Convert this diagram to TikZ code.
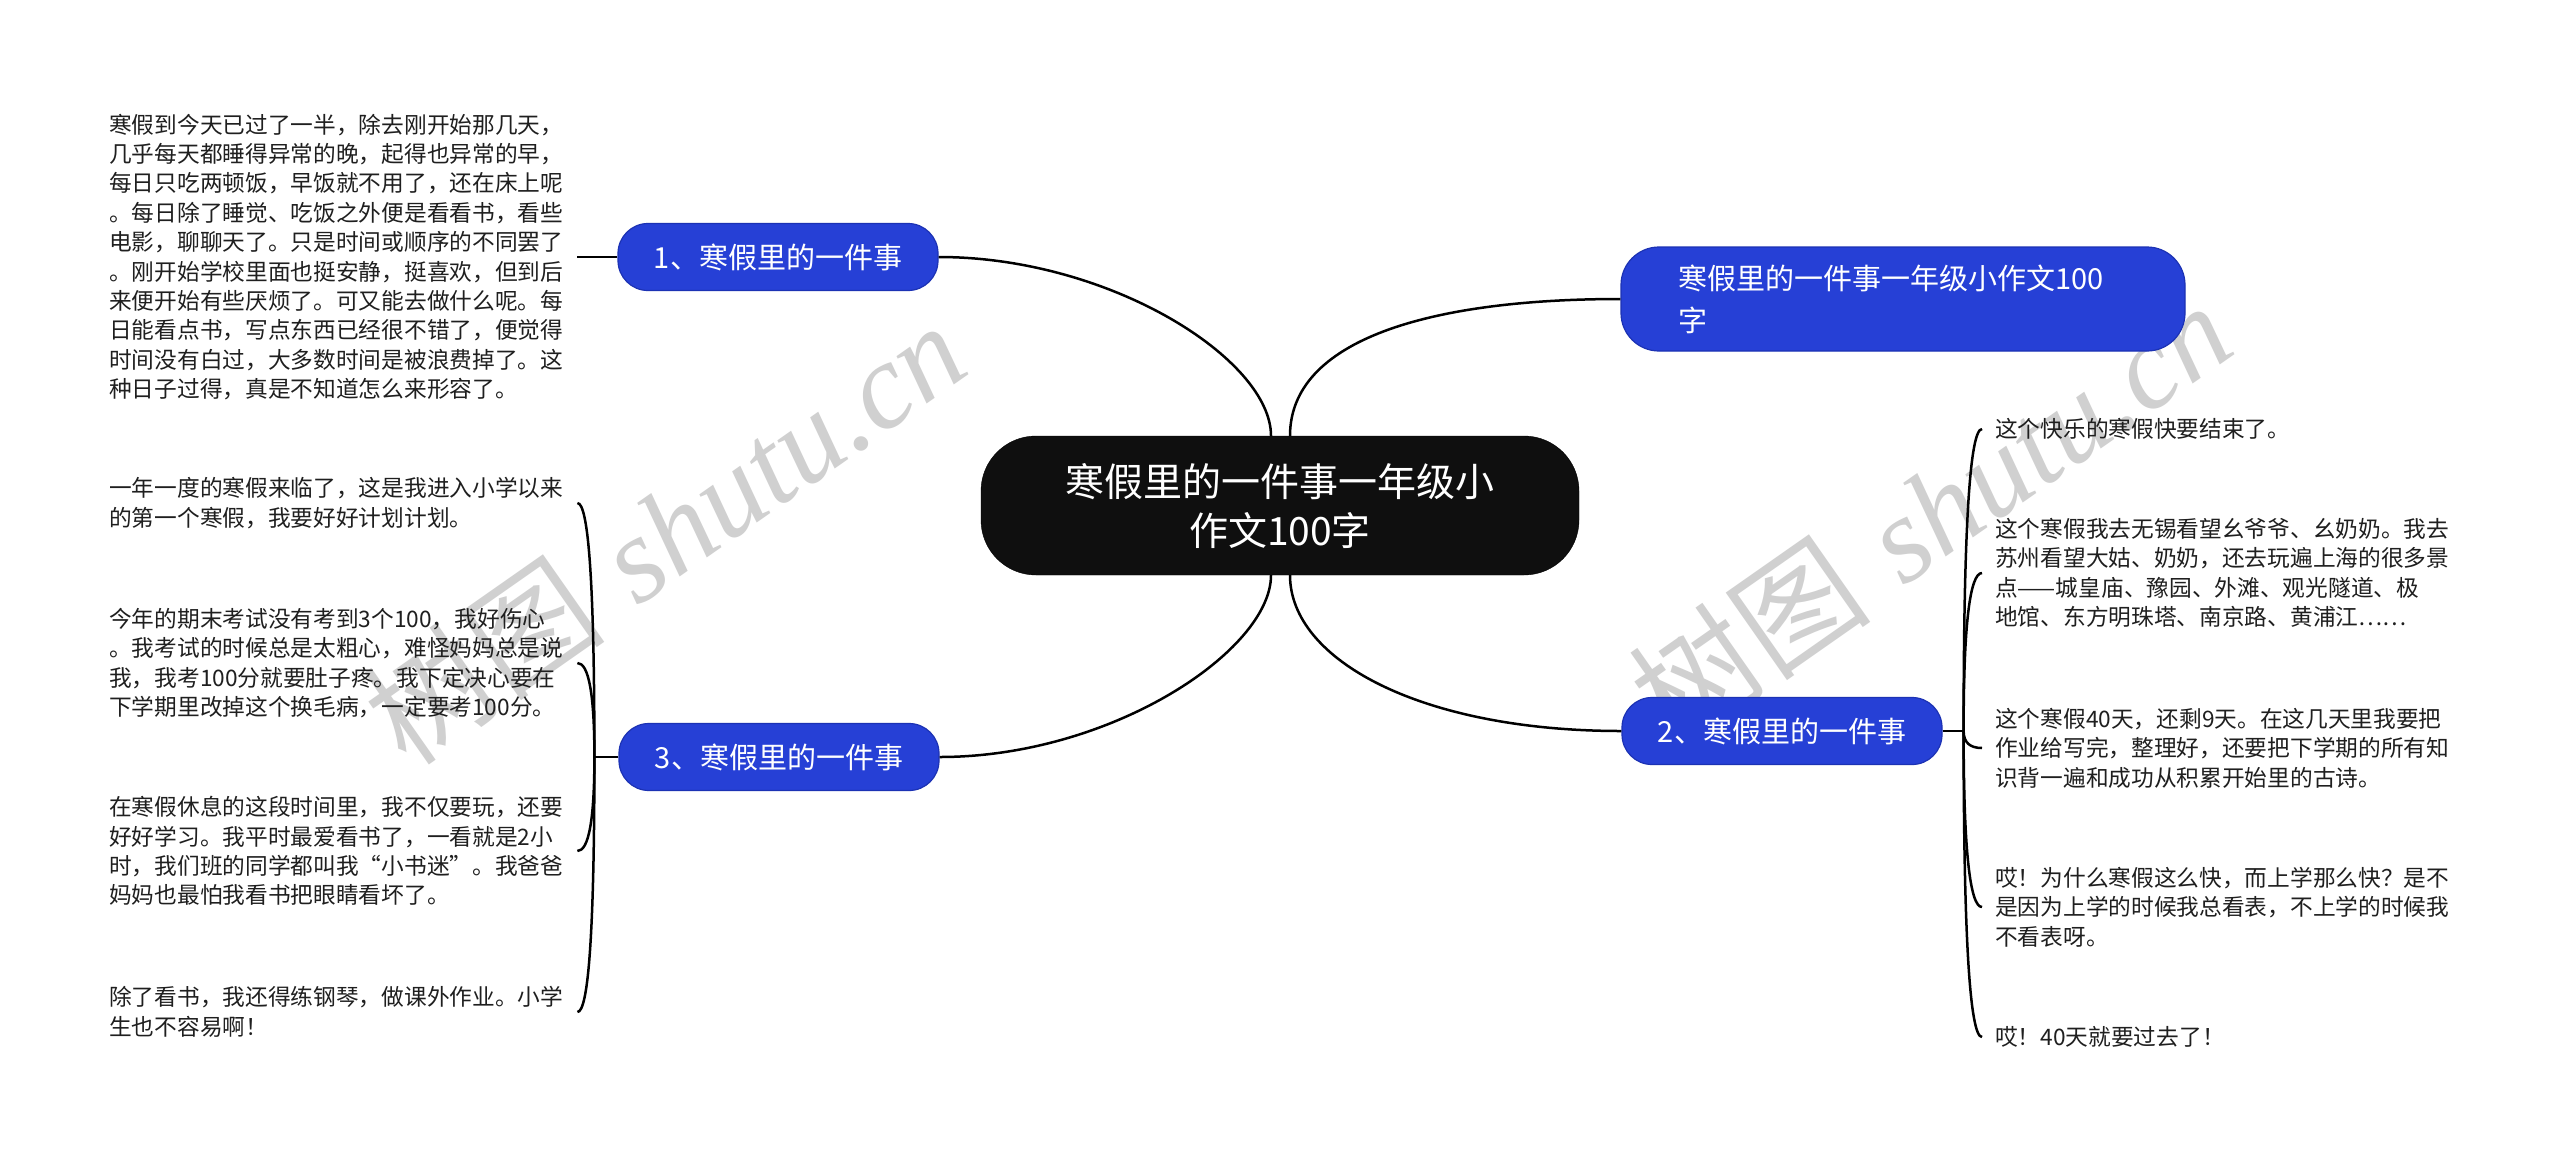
\documentclass[tikz,border=0pt]{standalone}
\usepackage{fontspec}
\usetikzlibrary{calc}
\newfontfamily\cjk{Noto Sans CJK SC}
\newfontfamily\wmserif{Liberation Serif}
\definecolor{nodeblue}{RGB}{38,64,214}
\definecolor{nodeblueedge}{RGB}{28,50,180}
\definecolor{wmgray}{RGB}{208,208,208}
\tikzset{
  rootbox/.style={fill=black!94, draw=black, rounded corners=55pt, minimum width=598pt, minimum height=139pt,
    inner sep=0pt, text=white, align=center, font={\cjk\fontsize{39pt}{49pt}\selectfont}},
  bluebox/.style={fill=nodeblue, draw=nodeblueedge, line width=1.2pt, rounded corners=30pt,
    minimum width=320pt, minimum height=67pt, inner sep=0pt, text=white, font={\cjk\fontsize{29pt}{42pt}\selectfont}},
  leaftext/.style={inner sep=0pt, text width=460pt, align=left, text=black!88, font={\cjk\fontsize{22.7pt}{29.4pt}\selectfont}},
  mainconn/.style={line width=2.5pt, black},
  subconn/.style={line width=2.5pt, black},
  watermark/.style={text=wmgray, rotate=35, inner sep=0pt, font={\fontsize{122pt}{122pt}\selectfont}}
}
\newcommand\hookline[2]{\draw[subconn] (#1) .. controls ($(#1)!0.667!(#1|-#2)$) and ($(#2)!0.667!(#1|-#2)$) .. (#2);}
\begin{document}
\begin{tikzpicture}[x=1pt,y=-1pt]
\useasboundingbox (0,0) rectangle (2560,1160);
\fill[white] (0,0) rectangle (2560,1160);

% watermarks
\node[watermark] (wm1) at (664,532) {{\cjk 树图} {\wmserif\itshape shutu.cn}};
\node[watermark] (wm2) at (1930,512) {{\cjk 树图} {\wmserif\itshape shutu.cn}};

% root
\node[rootbox] (ctr) at (1280,505.5) {寒假里的一件事一年级小\\作文100字};

% main branches
\node[bluebox] (n1) at (778,257) {1、寒假里的一件事};
\node[bluebox] (n3) at (779,757) {3、寒假里的一件事};
\node[bluebox] (n2) at (1782,731) {2、寒假里的一件事};
\node[bluebox, rounded corners=38pt, minimum width=564pt, minimum height=104pt, text width=450pt, inner xsep=57pt, align=left] (n4) at (1903,299) {寒假里的一件事一年级小作文100\\字};

\draw[mainconn] ($(ctr.north)+(-9,0)$) .. controls +(0,-76) and +(172,0) .. (n1.east);
\draw[mainconn] ($(ctr.north)+(10,0)$) .. controls +(0,-96) and +(-191,0) .. (n4.west);
\draw[mainconn] ($(ctr.south)+(-9,0)$) .. controls +(0,75) and +(172,0) .. (n3.east);
\draw[mainconn] ($(ctr.south)+(10,0)$) .. controls +(0,85) and +(-200,0) .. (n2.west);

% left group 1
\node[leaftext, anchor=west] (g1) at (109,257) {寒假到今天已过了一半，除去刚开始那几天，\\几乎每天都睡得异常的晚，起得也异常的早，\\每日只吃两顿饭，早饭就不用了，还在床上呢\\。每日除了睡觉、吃饭之外便是看看书，看些\\电影，聊聊天了。只是时间或顺序的不同罢了\\。刚开始学校里面也挺安静，挺喜欢，但到后\\来便开始有些厌烦了。可又能去做什么呢。每\\日能看点书，写点东西已经很不错了，便觉得\\时间没有白过，大多数时间是被浪费掉了。这\\种日子过得，真是不知道怎么来形容了。};
\coordinate (g1e) at ($(g1.east)+(8,0)$);
\draw[subconn] (n1.west) -- (g1e);

% left group 3
\node[leaftext, anchor=west] (c1) at (109,503) {一年一度的寒假来临了，这是我进入小学以来\\的第一个寒假，我要好好计划计划。};
\node[leaftext, anchor=west] (c2) at (109,663) {今年的期末考试没有考到3个100，我好伤心\\。我考试的时候总是太粗心，难怪妈妈总是说\\我，我考100分就要肚子疼。我下定决心要在\\下学期里改掉这个换毛病，一定要考100分。};
\node[leaftext, anchor=west] (c3) at (109,851) {在寒假休息的这段时间里，我不仅要玩，还要\\好好学习。我平时最爱看书了，一看就是2小\\时，我们班的同学都叫我“小书迷”。我爸爸\\妈妈也最怕我看书把眼睛看坏了。};
\node[leaftext, anchor=west] (c4) at (109,1012) {除了看书，我还得练钢琴，做课外作业。小学\\生也不容易啊！};
\draw[subconn] (n3.west) -- ++(-24,0) coordinate (s3);
\coordinate (c1e) at ($(c1.east)+(8,0)$);
\coordinate (c2e) at ($(c2.east)+(8,0)$);
\coordinate (c3e) at ($(c3.east)+(8,0)$);
\coordinate (c4e) at ($(c4.east)+(8,0)$);
\hookline{s3}{c1e}
\hookline{s3}{c2e}
\hookline{s3}{c3e}
\hookline{s3}{c4e}

% right group 2
\node[leaftext, anchor=west] (r1) at (1995,429) {这个快乐的寒假快要结束了。};
\node[leaftext, anchor=west] (r2) at (1995,573) {这个寒假我去无锡看望幺爷爷、幺奶奶。我去\\苏州看望大姑、奶奶，还去玩遍上海的很多景\\点——城皇庙、豫园、外滩、观光隧道、极\\地馆、东方明珠塔、南京路、黄浦江……};
\node[leaftext, anchor=west] (r3) at (1995,748) {这个寒假40天，还剩9天。在这几天里我要把\\作业给写完，整理好，还要把下学期的所有知\\识背一遍和成功从积累开始里的古诗。};
\node[leaftext, anchor=west] (r4) at (1995,907) {哎！为什么寒假这么快，而上学那么快？是不\\是因为上学的时候我总看表，不上学的时候我\\不看表呀。};
\node[leaftext, anchor=west] (r5) at (1995,1037) {哎！40天就要过去了！};
\draw[subconn] (n2.east) -- ++(21,0) coordinate (s2);
\coordinate (r1e) at ($(r1.west)+(-13,0)$);
\coordinate (r2e) at ($(r2.west)+(-13,0)$);
\coordinate (r3e) at ($(r3.west)+(-13,0)$);
\coordinate (r4e) at ($(r4.west)+(-13,0)$);
\coordinate (r5e) at ($(r5.west)+(-13,0)$);
\hookline{s2}{r1e}
\hookline{s2}{r2e}
\hookline{s2}{r3e}
\hookline{s2}{r4e}
\hookline{s2}{r5e}
\end{tikzpicture}
\end{document}
